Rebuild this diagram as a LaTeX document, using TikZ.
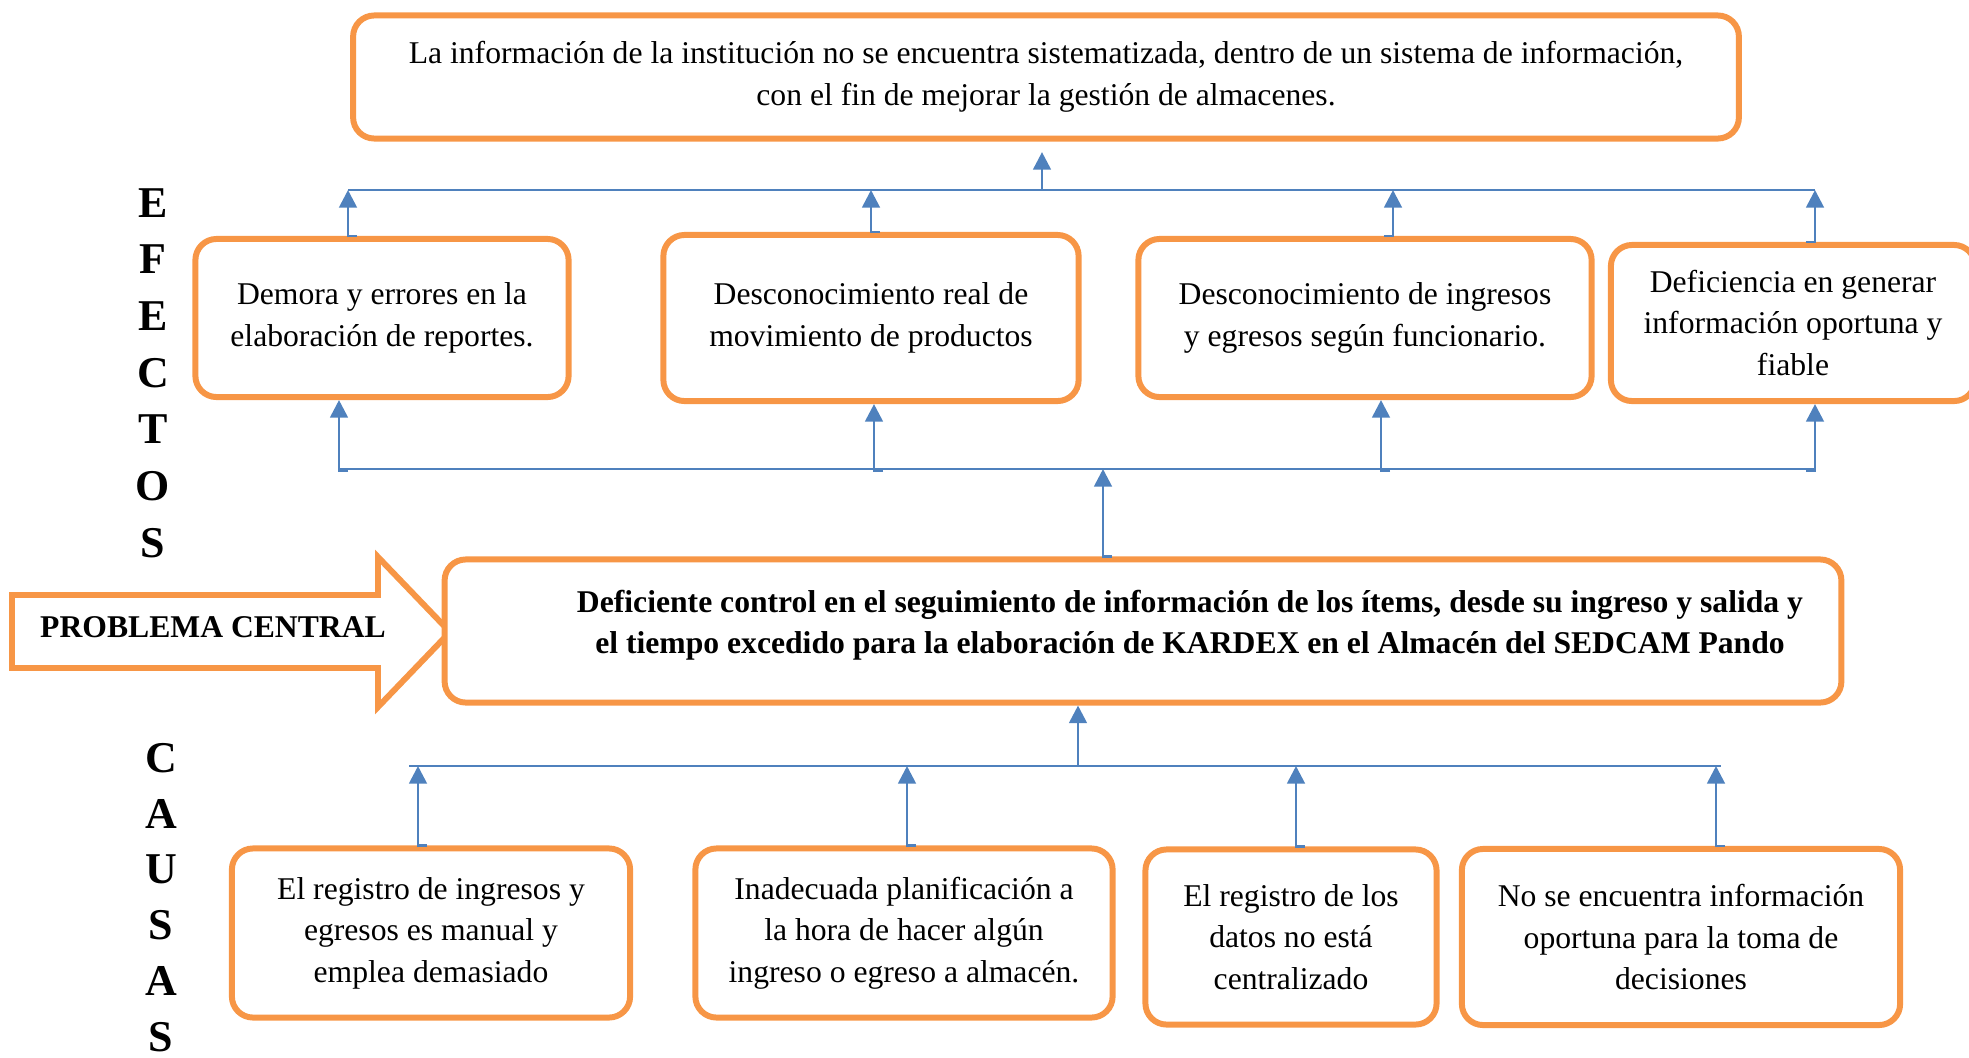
\documentclass[tikz,border=0pt]{standalone}
\usepackage{fontspec}
\setmainfont{Liberation Serif}
\usetikzlibrary{arrows.meta, calc}
\definecolor{boxorange}{RGB}{247,150,70}
\definecolor{linkblue}{RGB}{79,129,189}
\tikzset{
  cbox/.style={rectangle, rounded corners=6pt, draw=boxorange, line width=1.7pt, fill=white,
               align=center, inner sep=0pt, font=\fontsize{9}{11.8}\selectfont},
  sidelet/.style={inner sep=0pt, font=\fontsize{12.5}{14}\selectfont\bfseries},
  link/.style={draw=linkblue, line width=0.8pt},
  arrow/.style={-{Triangle[length=5pt, width=5pt]}, draw=linkblue, line width=0.8pt},
}

\begin{document}
\begin{tikzpicture}[x=0.01cm, y=-0.01cm]
  \useasboundingbox (0,0) rectangle (1969,1057);

  % efectos
  \node[cbox, minimum width=13.85cm, minimum height=1.23cm] (top) at (1046,77)
    {La información de la institución no se encuentra sistematizada, dentro de un sistema de información,\\
     con el fin de mejorar la gestión de almacenes.};

  \node[cbox, minimum width=3.73cm, minimum height=1.58cm] (e1) at (382,318)
    {Demora y errores en la\\ elaboración de reportes.};
  \node[cbox, minimum width=4.15cm, minimum height=1.66cm] (e2) at (871,318)
    {Desconocimiento real de\\ movimiento de productos};
  \node[cbox, minimum width=4.53cm, minimum height=1.58cm] (e3) at (1365,318)
    {Desconocimiento de ingresos\\ y egresos según funcionario.};
  \node[cbox, minimum width=3.64cm, minimum height=1.56cm] (e4) at (1793,323)
    {Deficiencia en generar\\ información oportuna y\\ fiable};

  % problema central
  \draw[boxorange, line width=1.7pt] (12,595) -- (378,595) -- (378,557) -- (450,632)
    -- (378,707) -- (378,668) -- (12,668) -- cycle;
  \node[inner sep=0pt, font=\fontsize{9}{11}\selectfont\bfseries] (pc) at (213,627) {PROBLEMA CENTRAL};

  \node[cbox, minimum width=13.96cm, minimum height=1.43cm] (central) at (1143,631) {};
  \node[align=center, inner sep=0pt, font=\fontsize{9}{11.8}\selectfont\bfseries] (ptext) at (1190,625)
    {Deficiente control en el seguimiento de información de los ítems, desde su ingreso y salida y\\
     el tiempo excedido para la elaboración de KARDEX en el Almacén del SEDCAM Pando};

  % causas
  \node[cbox, minimum width=3.98cm, minimum height=1.69cm] (c1) at (431,933)
    {El registro de ingresos y\\ egresos es manual y\\ emplea demasiado};
  \node[cbox, minimum width=4.17cm, minimum height=1.69cm] (c2) at (904,933)
    {Inadecuada planificación a\\ la hora de hacer algún\\ ingreso o egreso a almacén.};
  \node[cbox, minimum width=2.91cm, minimum height=1.75cm] (c3) at (1291,937)
    {El registro de los\\ datos no está\\ centralizado};
  \node[cbox, minimum width=4.38cm, minimum height=1.76cm] (c4) at (1681,937)
    {No se encuentra información\\ oportuna para la toma de\\ decisiones};

  % letras laterales
  \foreach \l [count=\i] in {E,F,E,C,T,O,S}
    \node[sidelet] (ef\i) at (153,146+56.7*\i) {\l};
  \foreach \l [count=\i] in {C,A,U,S,A,S}
    \node[sidelet] (ca\i) at (161,702+55.8*\i) {\l};

  % conectores superiores
  \coordinate (ub1) at (348,190);
  \coordinate (ub2) at (871,190);
  \coordinate (ub3) at (1393,190);
  \coordinate (ub4) at (1815,190);
  \coordinate (ubt) at (1042,190);
  \draw[link] (ub1) -- (ub4);
  \draw[arrow, shorten >=3pt] (ubt) -- (ubt |- top.south);
  \draw[arrow] ($(ub1 |- e1.north)+(9,0)$) -| (ub1);
  \draw[arrow] ($(ub2 |- e2.north)+(9,0)$) -| (ub2);
  \draw[arrow] ($(ub3 |- e3.north)+(-9,0)$) -| (ub3);
  \draw[arrow] ($(ub4 |- e4.north)+(-9,0)$) -| (ub4);

  % conectores intermedios
  \coordinate (mb1) at (339,469);
  \coordinate (mb2) at (874,469);
  \coordinate (mb3) at (1381,469);
  \coordinate (mb4) at (1815,469);
  \coordinate (mbt) at (1103,469);
  \draw[link] (mb1) -- (mb4);
  \draw[arrow] ($(mbt |- central.north)+(9,0)$) -| (mbt);
  \draw[arrow] ($(mb1)+(9,2)$) -| (mb1 |- e1.south);
  \draw[arrow] ($(mb2)+(9,2)$) -| (mb2 |- e2.south);
  \draw[arrow] ($(mb3)+(9,2)$) -| (mb3 |- e3.south);
  \draw[arrow] ($(mb4)+(-9,2)$) -| (mb4 |- e4.south);

  % conectores inferiores
  \coordinate (lb1) at (418,766);
  \coordinate (lb2) at (907,766);
  \coordinate (lb3) at (1296,766);
  \coordinate (lb4) at (1716,766);
  \coordinate (lbt) at (1078,766);
  \draw[link] ($(lb1)+(-9,0)$) -- ($(lb4)+(5,0)$);
  \draw[arrow] (lbt) -- (lbt |- central.south);
  \draw[arrow] ($(lb1 |- c1.north)+(9,0)$) -| (lb1);
  \draw[arrow] ($(lb2 |- c2.north)+(9,0)$) -| (lb2);
  \draw[arrow] ($(lb3 |- c3.north)+(9,0)$) -| (lb3);
  \draw[arrow] ($(lb4 |- c4.north)+(9,0)$) -| (lb4);
\end{tikzpicture}
\end{document}
